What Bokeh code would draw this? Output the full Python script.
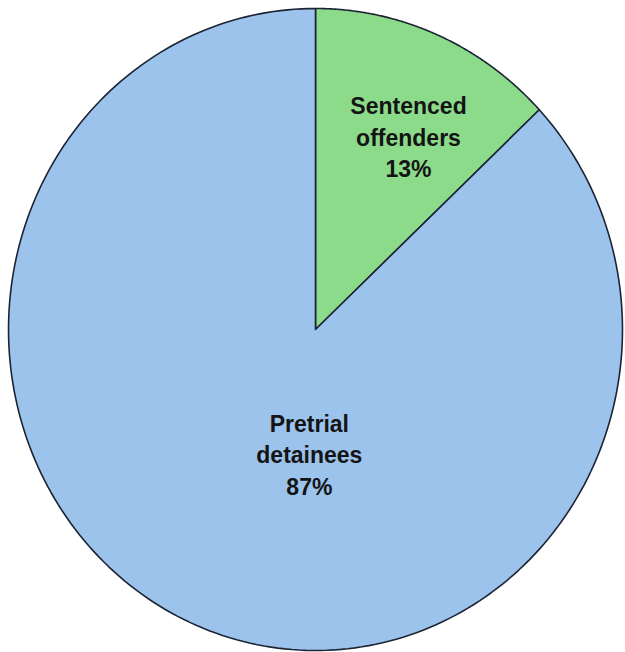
import numpy as np
from bokeh.plotting import figure
from bokeh.models import Range1d, ColumnDataSource
from bokeh.core.properties import value
from bokeh.embed import file_html
from bokeh.resources import INLINE

# Data
categories = ["Sentenced offenders", "Pretrial detainees"]
shares = [13, 87]
labels = ["Sentenced\noffenders\n13%", "Pretrial\ndetainees\n87%"]
colors = ["#8cdb8a", "#9cc3ec"]

# label anchor positions (style, in unit-circle coordinates)
label_x = [0.303, -0.02]
label_y = [0.598, -0.392]

# Build wedges clockwise from 12 o'clock
total = float(sum(shares))
xs, ys = [], []
start = 0.0
for s in shares:
    end = start + s / total * 2 * np.pi
    t = np.linspace(start, end, 240)
    xs.append(np.concatenate([[0.0], np.sin(t), [0.0]]))
    ys.append(np.concatenate([[0.0], np.cos(t), [0.0]]))
    start = end

src = ColumnDataSource(dict(xs=xs, ys=ys, color=colors, cat=categories))

p = figure(width=625, height=652, output_backend="svg", toolbar_location=None,
           x_range=Range1d(-1.0261, 1.0098), y_range=Range1d(-1.0062, 1.0249),
           min_border=0, outline_line_color=None)
p.axis.visible = False
p.grid.visible = False
p.background_fill_color = "white"

p.patches("xs", "ys", source=src, fill_color="color", line_color="#1c2333",
          line_width=1.6, line_join="round")

lsrc = ColumnDataSource(dict(x=label_x, y=label_y, text=labels))
p.text("x", "y", text="text", source=lsrc, text_font=value("Liberation Sans"),
       text_font_style="bold", text_font_size="23px", text_color="#141414",
       text_align="center", text_baseline="middle", text_line_height=1.2)

open("out.html", "w").write(file_html(p, INLINE))
